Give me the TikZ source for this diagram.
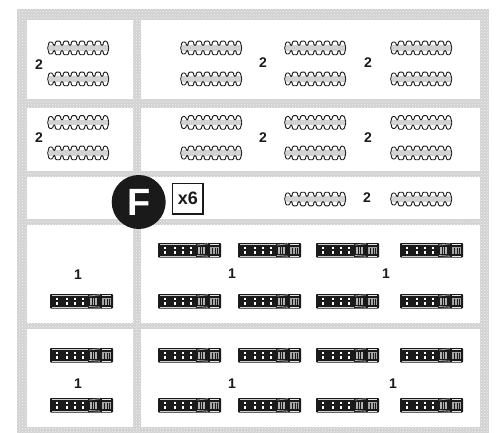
\documentclass[tikz,border=0pt]{standalone}
\usepackage{fontspec}
\setmainfont{Liberation Sans}
\usetikzlibrary{patterns}
\definecolor{halft}{HTML}{D2D2D2}
\definecolor{ink}{HTML}{1A1A1A}
\tikzset{
  x=1pt,y=-1pt,
  qty/.style={font=\fontsize{14}{14}\selectfont\bfseries,text=ink,inner sep=0pt},
  cell/.style={fill=white,draw=none},
  chainA/.pic={
    \fill[halft] (.5,-2.6) rectangle (60,2.6);
    \draw[ink,line width=.9pt,line join=round,rounded corners=1.1pt]
      (.3,-2.5) -- (1,-6) -- (4.5,-6) -- (5.5,-2.6)
      \foreach \k in {7,15,23,31,39,47}{ -- (\k,-2.6) -- (\k+.6,-6.8) -- (\k+5.4,-6.8) -- (\k+6,-2.6) }
      -- (55,-2.6) -- (55.6,-6.8) -- (59,-6.8) -- (60.3,-2.6) -- (60.8,0);
    \draw[ink,line width=.9pt,line join=round,rounded corners=1.1pt]
      (.3,2.5) -- (1,6) -- (4.5,6) -- (5.5,2.6)
      \foreach \k in {7,15,23,31,39,47}{ -- (\k,2.6) -- (\k+.6,6.8) -- (\k+5.4,6.8) -- (\k+6,2.6) }
      -- (55,2.6) -- (55.6,6.8) -- (59,6.8) -- (60.3,2.6) -- (60.8,0);
    \draw[ink,line width=.9pt] (.3,-2.5) -- (-.3,0) -- (.3,2.5);
  },
  chainB/.pic={
    \fill[ink,rounded corners=.8pt] (0,-7) rectangle (63,7.5);
    \draw[white!80!black,line width=.8pt] (2,-5.6) -- (38,-5.6) (2,6) -- (38,6);
    \draw[white!70!black,line width=.8pt] (39,-5) -- (50,-6.2) (39,5.5) -- (50,6.2);
    \draw[white!90!black,line width=1pt] (52,-6) -- (61,-6) (52,6.3) -- (61,6.3);
    \foreach \k in {7,17,25,33}{
      \draw[white,line width=2pt] (\k,-3.5) -- (\k,-1) (\k,.8) -- (\k,4);
    }
    \fill[white!70!black] (40,-3) rectangle (47,4);
    \draw[ink,line width=.9pt] (42.3,-3) -- (42.3,4) (44.7,-3) -- (44.7,4);
    \fill[white!65!black] (52,-3.5) rectangle (61,4.2);
    \draw[ink,line width=.8pt] (54.5,-2.5) -- (54.5,3.5) (57,-2.5) -- (57,3.5) (59.3,-2.5) -- (59.3,3.5);
  }
}
\begin{document}
\begin{tikzpicture}
\useasboundingbox (0,0) rectangle (498,433);
\fill[white] (0,0) rectangle (498,433);
% halftone frame
\fill[halft] (17,9) rectangle (489,433);
\fill[pattern=crosshatch dots,pattern color=white!70!halft] (17,9) rectangle (489,433);
% cells
\foreach \xa/\xb/\ya/\yb in {
 27/133/20/99, 141/480/20/99,
 27/133/108/171, 141/480/108/171,
 27/480/177/219,
 27/133/225/323, 141/480/225/323,
 27/133/329/427, 141/480/329/427}{
  \fill[cell] (\xa,\ya) rectangle (\xb,\yb);
}
% type A chains
\foreach \px/\py in {
 48/48,48/79,181/48,181/79,285/48,285/79,391/48,391/79,
 48/122.5,48/153,181/122.5,181/153,285/122.5,285/153,391/122.5,391/153,
 285/199,391/199}{
  \pic at (\px,\py) {chainA};
}
% type B chains
\foreach \px/\py in {
 50/301,158/250,158/301,238/250,238/301,316/250,316/301,400/250,400/301,
 50/355,50/405,158/355,158/405,238/355,238/405,316/355,316/405,400/355,400/405}{
  \pic at (\px,\py) {chainB};
}
% quantities
\node[qty] (a1) at (39,65) {2};
\node[qty] (a2) at (263,63) {2};
\node[qty] (a3) at (368,63) {2};
\node[qty] (b1) at (39,138) {2};
\node[qty] (b2) at (263,138) {2};
\node[qty] (b3) at (368,138) {2};
\node[qty] (c1) at (367,198) {2};
\node[qty] (d1) at (78,275) {1};
\node[qty] (d2) at (232,274) {1};
\node[qty] (d3) at (386,274) {1};
\node[qty] (e1) at (78,384) {1};
\node[qty] (e2) at (232,384) {1};
\node[qty] (e3) at (393,384) {1};
% step badge
\node[circle,fill=ink,minimum size=54pt,inner sep=0pt,text=white,font=\fontsize{38}{38}\selectfont\bfseries] (badge) at (138.7,202) {F};
\node[draw=ink,line width=1.8pt,fill=white,minimum size=30.5pt,inner sep=0pt,text=ink,font=\fontsize{18}{18}\selectfont\bfseries] (times) at (187.8,198.7) {x6};
\end{tikzpicture}
\end{document}
